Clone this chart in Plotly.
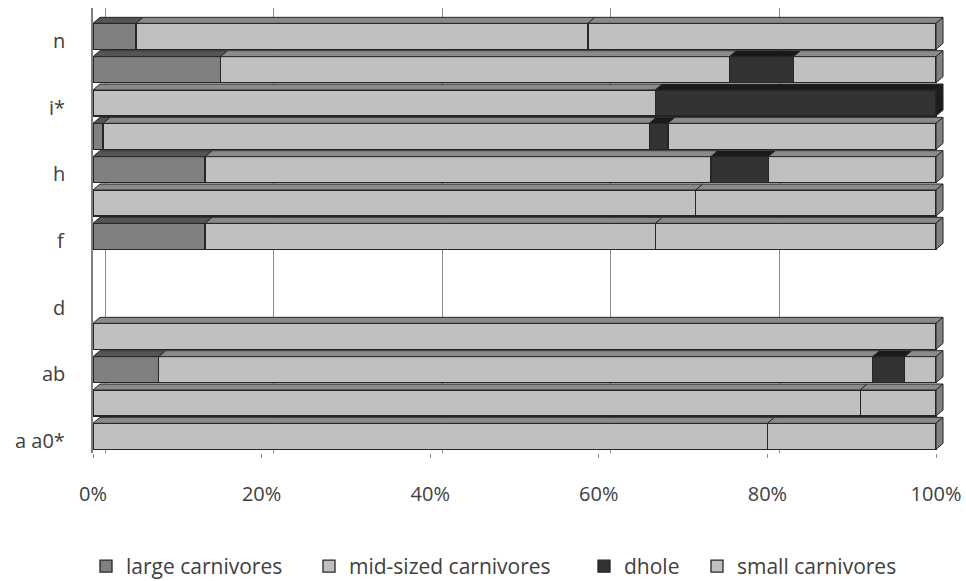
import plotly.graph_objects as go

# Rows from bottom to top; only every other row carries a printed label
rows = list(range(13))
tick_rows = [0, 2, 4, 6, 8, 10, 12]
tick_labels = ["a a0*", "ab", "d", "f", "h", "i*", "n"]

# Share of each carnivore group per row (%)
large = [0, 0, 7.8, 0, 0, 0, 13.3, 0, 13.3, 1.2, 0, 15.1, 5.1]
mid = [80.0, 91.0, 84.7, 100, 0, 0, 53.4, 71.5, 60.0, 64.8, 66.7, 60.4, 53.6]
dhole = [0, 0, 3.8, 0, 0, 0, 0, 0, 6.8, 2.2, 33.3, 7.6, 0]
small = [20.0, 9.0, 3.7, 0, 0, 0, 33.3, 28.5, 19.9, 31.8, 0, 16.9, 41.3]

x_ticks = [0, 20, 40, 60, 80, 100]
x_tick_labels = ["0%", "20%", "40%", "60%", "80%", "100%"]

# name, values, front colour, top colour, side colour, legend slot
series = [
    ("large carnivores", large, "#808080", "#555555", "#5a5a5a", "legend"),
    ("mid-sized carnivores", mid, "#c0c0c0", "#8a8a8a", "#808080", "legend2"),
    ("dhole", dhole, "#333333", "#1a1a1a", "#1c1c1c", "legend3"),
    ("small carnivores", small, "#c0c0c0", "#8a8a8a", "#808080", "legend4"),
]
# left edge (px) of each legend entry
legend_left_px = [86, 309, 584, 697]

# plot-area geometry used to turn the pseudo-3D depth into data units
L_MARGIN, T_MARGIN = 93, 7.5
PLOT_W, PLOT_H = 855, 445.25
X_MAX = 101.42
Y_RANGE = (-0.5, 12.85)
BARGAP = 0.22
ux = X_MAX / PLOT_W
uy = (Y_RANGE[1] - Y_RANGE[0]) / PLOT_H
dx, dy = 7 * ux, 6 * uy
half = (1 - BARGAP) / 2
wall_shift = 12 * ux

EDGE = "#262626"
FONT = "Open Sans"
TEXT = "#404040"
FSIZE = 20

fig = go.Figure()
for name, vals, front, top, side, leg in series:
    fig.add_trace(go.Bar(
        y=rows, x=[v if v else None for v in vals], name=name,
        orientation="h", legend=leg,
        marker=dict(color=front, line=dict(color=EDGE, width=1.3)),
        hoverinfo="skip",
    ))

# invisible trace that carries the back-wall gridlines axis
fig.add_trace(go.Scatter(x=[0], y=[0], xaxis="x2", mode="markers",
                         marker=dict(opacity=0), showlegend=False,
                         hoverinfo="skip"))

shapes = []
for i in rows:
    yt = i + half
    yb = i - half
    cum = 0.0
    last_side = None
    for name, vals, front, top, side, leg in series:
        v = vals[i]
        if not v:
            continue
        x0, x1 = cum, cum + v
        shapes.append(dict(
            type="path", layer="above",
            path=f"M {x0},{yt} L {x1},{yt} L {x1 + dx},{yt + dy} L {x0 + dx},{yt + dy} Z",
            fillcolor=top, line=dict(color=EDGE, width=1),
        ))
        cum = x1
        last_side = side
    if last_side:
        shapes.append(dict(
            type="path", layer="above",
            path=f"M {cum},{yb} L {cum},{yt} L {cum + dx},{yt + dy} L {cum + dx},{yb + dy} Z",
            fillcolor=last_side, line=dict(color=EDGE, width=1),
        ))

# row labels, set slightly below the bar centres
annotations = [
    dict(x=0, xref="paper", y=r, yref="y", text=t, showarrow=False,
         xanchor="right", yanchor="middle", xshift=-26, yshift=-4,
         font=dict(family=FONT, size=FSIZE, color=TEXT))
    for r, t in zip(tick_rows, tick_labels)
]

legend_style = dict(orientation="h", xanchor="left", y=-0.255,
                    yanchor="middle", font=dict(size=21, color=TEXT),
                    itemwidth=30, bgcolor="rgba(0,0,0,0)")
legends = {}
for (name, vals, front, top, side, leg), left in zip(series, legend_left_px):
    legends[leg] = dict(legend_style, x=(left - L_MARGIN) / PLOT_W)

fig.update_layout(
    width=966, height=581,
    margin=dict(l=L_MARGIN, r=966 - L_MARGIN - PLOT_W, t=T_MARGIN,
                b=581 - T_MARGIN - PLOT_H, pad=0, autoexpand=False),
    paper_bgcolor="white", plot_bgcolor="white",
    barmode="stack", bargap=BARGAP,
    font=dict(family=FONT, size=FSIZE, color=TEXT),
    shapes=shapes,
    annotations=annotations,
    xaxis=dict(range=[0, X_MAX], tickvals=x_ticks, ticktext=x_tick_labels,
               showgrid=False, zeroline=False, showline=False,
               ticks="outside", ticklen=4, tickcolor="#8c8c8c",
               ticklabelstandoff=19, tickfont=dict(size=FSIZE)),
    xaxis2=dict(overlaying="x", range=[-wall_shift, X_MAX - wall_shift],
                tickvals=x_ticks, showticklabels=False, ticks="",
                showgrid=True, gridcolor="#8c8c8c", gridwidth=1.2,
                zeroline=False, showline=False),
    yaxis=dict(range=list(Y_RANGE), tickvals=tick_rows,
               showticklabels=False, showgrid=False, zeroline=False,
               showline=True, linecolor="#7f7f7f", linewidth=1.5, ticks=""),
    showlegend=True,
    **legends,
)

fig.write_html("out.html")
